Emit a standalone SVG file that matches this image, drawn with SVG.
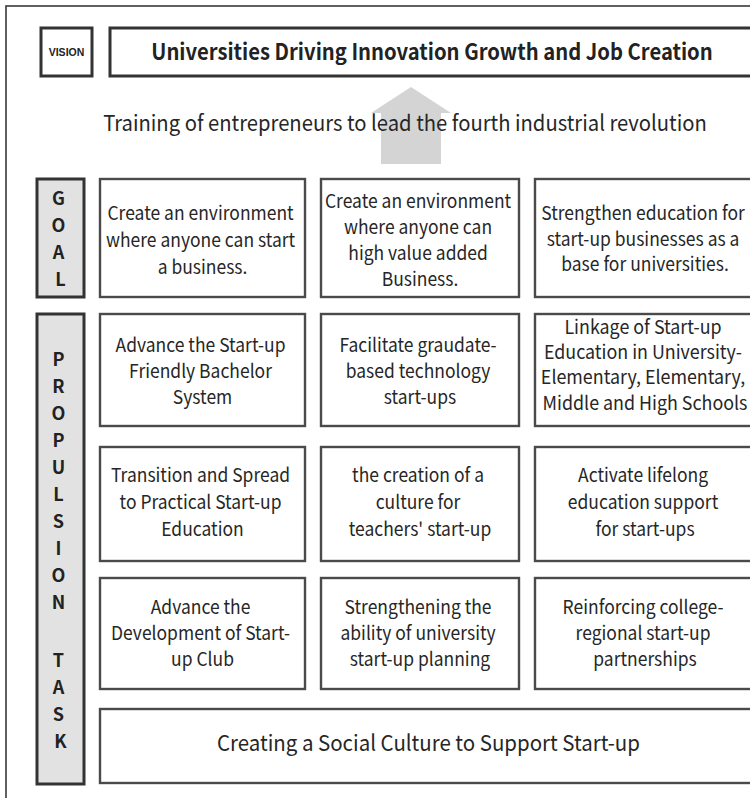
<svg xmlns="http://www.w3.org/2000/svg" width="750" height="798" viewBox="0 0 750 798">
  <style>
    .frame { fill: #ffffff; stroke: #3a3a3a; stroke-width: 1.6; }
    .box { fill: #ffffff; stroke: #4a4a4a; stroke-width: 2.4; }
    .head { fill: #ffffff; stroke: #333333; stroke-width: 3; }
    .tag { fill: #e2e2e2; stroke: #333333; stroke-width: 3; }
    .t { font-family: "Noto Sans CJK KR", "Noto Sans", sans-serif; font-size: 19px; fill: #262626; text-anchor: middle; }
    .wide { font-family: "Noto Sans CJK KR", "Noto Sans", sans-serif; font-size: 22px; fill: #262626; text-anchor: middle; }
    .big { font-family: "Noto Sans CJK KR", "Noto Sans", sans-serif; font-size: 22px; fill: #262626; text-anchor: middle; }
    .title { font-family: "Noto Sans CJK KR", "Noto Sans", sans-serif; font-size: 22px; font-weight: bold; fill: #222222; text-anchor: middle; }
    .lbl { font-family: "Noto Sans CJK KR", "Noto Sans", sans-serif; font-size: 18px; font-weight: bold; fill: #222222; text-anchor: middle; }
    .vis { font-family: "Liberation Sans", Arial, sans-serif; font-size: 10.5px; font-weight: bold; fill: #222222; text-anchor: middle; }
  </style>

  <rect width="750" height="798" fill="#ffffff"/>
  <!-- outer frame, running off the right and bottom edges -->
  <rect class="frame" x="6" y="6" width="800" height="820"/>

  <g id="vision-tag">
    <rect class="head" x="41" y="28" width="51" height="48"/>
    <text class="vis" x="66.5" y="56">VISION</text>
  </g>

  <g id="vision">
    <rect class="head" x="110" y="28" width="660" height="48"/>
    <text class="title" transform="translate(432 60) scale(0.92 1)">Universities Driving Innovation Growth and Job Creation</text>
  </g>

  <g id="connectors">
    <polygon points="411,87 451,113 441,113 441,164 381,164 381,113 371,113" fill="#d4d4d4"/>
  </g>

  <g id="mission">
    <text class="big" transform="translate(405 131) scale(0.92 1)">Training of entrepreneurs to lead the fourth industrial revolution</text>
  </g>

  <g id="goal-tag">
    <rect class="tag" x="37" y="179" width="47" height="118"/>
    <text class="lbl">
      <tspan x="60.5" y="205">G</tspan>
      <tspan x="60.5" y="232">O</tspan>
      <tspan x="60.5" y="259">A</tspan>
      <tspan x="60.5" y="286">L</tspan>
    </text>
  </g>

  <g id="task-tag">
    <rect class="tag" x="37" y="314" width="47" height="470"/>
    <text class="lbl">
      <tspan x="60.5" y="366">P</tspan>
      <tspan x="60.5" y="393">R</tspan>
      <tspan x="60.5" y="420">O</tspan>
      <tspan x="60.5" y="447">P</tspan>
      <tspan x="60.5" y="474">U</tspan>
      <tspan x="60.5" y="501">L</tspan>
      <tspan x="60.5" y="528">S</tspan>
      <tspan x="60.5" y="555">I</tspan>
      <tspan x="60.5" y="582">O</tspan>
      <tspan x="60.5" y="609">N</tspan>
      <tspan x="60.5" y="667">T</tspan>
      <tspan x="60.5" y="694">A</tspan>
      <tspan x="60.5" y="721">S</tspan>
      <tspan x="60.5" y="748">K</tspan>
    </text>
  </g>

  <!-- goal row -->
  <g id="goal-1">
    <rect class="box" x="100" y="179" width="205" height="118"/>
    <text class="t" transform="translate(202.5 0) scale(0.92 1)">
      <tspan x="0" y="220">Create an environment</tspan>
      <tspan x="0" y="247">where anyone can start</tspan>
      <tspan x="0" y="274">a business.</tspan>
    </text>
  </g>
  <g id="goal-2">
    <rect class="box" x="321" y="179" width="198" height="118"/>
    <text class="t" transform="translate(420 0) scale(0.92 1)">
      <tspan x="0" y="208">Create an environment</tspan>
      <tspan x="0" y="234">where anyone can</tspan>
      <tspan x="0" y="260">high value added</tspan>
      <tspan x="0" y="286">Business.</tspan>
    </text>
  </g>
  <g id="goal-3">
    <rect class="box" x="535" y="179" width="222" height="118"/>
    <text class="t" transform="translate(645 0) scale(0.92 1)">
      <tspan x="0" y="220">Strengthen education for</tspan>
      <tspan x="0" y="246">start-up businesses as a</tspan>
      <tspan x="0" y="271">base for universities.</tspan>
    </text>
  </g>

  <!-- task row 1 -->
  <g id="task-1-1">
    <rect class="box" x="100" y="314" width="205" height="112"/>
    <text class="t" transform="translate(202.5 0) scale(0.92 1)">
      <tspan x="0" y="352">Advance the Start-up</tspan>
      <tspan x="0" y="378">Friendly Bachelor</tspan>
      <tspan x="0" y="404">System</tspan>
    </text>
  </g>
  <g id="task-1-2">
    <rect class="box" x="321" y="314" width="198" height="112"/>
    <text class="t" transform="translate(420 0) scale(0.92 1)">
      <tspan x="0" y="352">Facilitate graudate-</tspan>
      <tspan x="0" y="378">based technology</tspan>
      <tspan x="0" y="404">start-ups</tspan>
    </text>
  </g>
  <g id="task-1-3">
    <rect class="box" x="535" y="314" width="222" height="112"/>
    <text class="t" transform="translate(645 0) scale(0.94 1)">
      <tspan x="0" y="334">Linkage of Start-up</tspan>
      <tspan x="0" y="359">Education in University-</tspan>
      <tspan x="0" y="384">Elementary, Elementary,</tspan>
      <tspan x="0" y="410">Middle and High Schools</tspan>
    </text>
  </g>

  <!-- task row 2 -->
  <g id="task-2-1">
    <rect class="box" x="100" y="447" width="205" height="114"/>
    <text class="t" transform="translate(202.5 0) scale(0.92 1)">
      <tspan x="0" y="482">Transition and Spread</tspan>
      <tspan x="0" y="509">to Practical Start-up</tspan>
      <tspan x="0" y="536">Education</tspan>
    </text>
  </g>
  <g id="task-2-2">
    <rect class="box" x="321" y="447" width="198" height="114"/>
    <text class="t" transform="translate(420 0) scale(0.92 1)">
      <tspan x="0" y="482">the creation of a</tspan>
      <tspan x="0" y="509">culture for</tspan>
      <tspan x="0" y="536">teachers' start-up</tspan>
    </text>
  </g>
  <g id="task-2-3">
    <rect class="box" x="535" y="447" width="222" height="114"/>
    <text class="t" transform="translate(645 0) scale(0.92 1)">
      <tspan x="0" y="482">Activate lifelong</tspan>
      <tspan x="0" y="509">education support</tspan>
      <tspan x="0" y="536">for start-ups</tspan>
    </text>
  </g>

  <!-- task row 3 -->
  <g id="task-3-1">
    <rect class="box" x="100" y="578" width="205" height="111"/>
    <text class="t" transform="translate(202.5 0) scale(0.92 1)">
      <tspan x="0" y="614">Advance the</tspan>
      <tspan x="0" y="640">Development of Start-</tspan>
      <tspan x="0" y="666">up Club</tspan>
    </text>
  </g>
  <g id="task-3-2">
    <rect class="box" x="321" y="578" width="198" height="111"/>
    <text class="t" transform="translate(420 0) scale(0.92 1)">
      <tspan x="0" y="614">Strengthening the</tspan>
      <tspan x="0" y="640">ability of university</tspan>
      <tspan x="0" y="666">start-up planning</tspan>
    </text>
  </g>
  <g id="task-3-3">
    <rect class="box" x="535" y="578" width="222" height="111"/>
    <text class="t" transform="translate(645 0) scale(0.92 1)">
      <tspan x="0" y="614">Reinforcing college-</tspan>
      <tspan x="0" y="640">regional start-up</tspan>
      <tspan x="0" y="666">partnerships</tspan>
    </text>
  </g>

  <!-- task row 4 -->
  <g id="task-4">
    <rect class="box" x="100" y="709" width="657" height="74"/>
    <text class="wide" transform="translate(428.5 751) scale(0.93 1)">Creating a Social Culture to Support Start-up</text>
  </g>
</svg>
